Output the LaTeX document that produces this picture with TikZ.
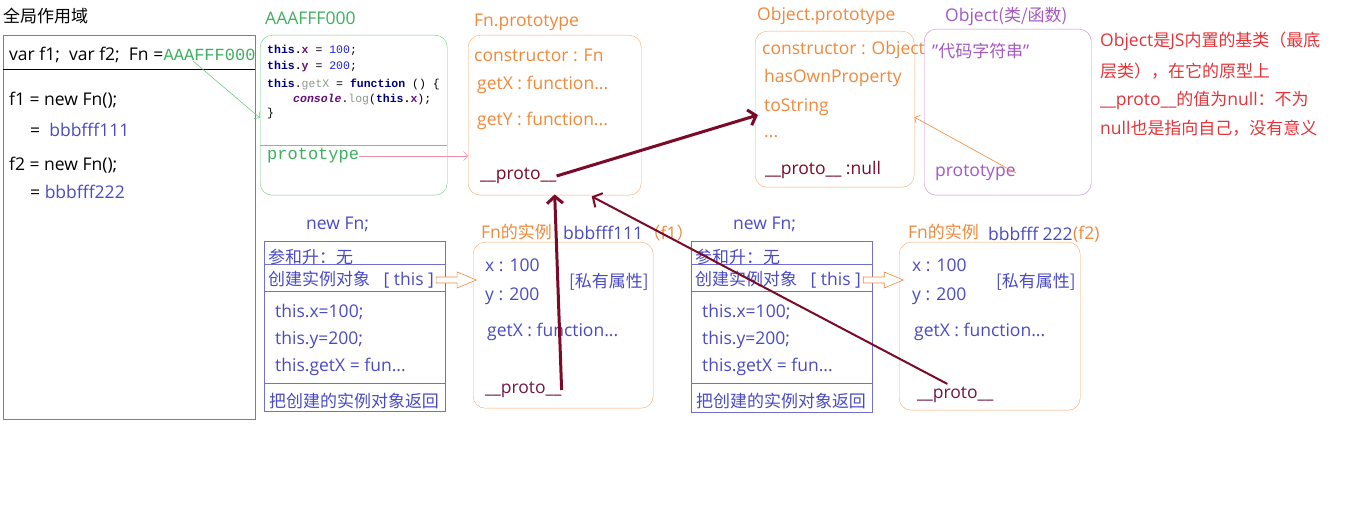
\documentclass[tikz,border=0pt]{standalone}
\usepackage{fontspec}
\setmainfont{Open Sans}
\newfontfamily\zhfont[Scale=0.97]{Noto Sans CJK SC}
\newfontfamily\codefont{Liberation Mono}
\newcommand{\zh}[1]{{\zhfont #1}}
\usetikzlibrary{arrows.meta, calc, positioning}

\definecolor{scopegray}{HTML}{7F7F7F}
\definecolor{heapgreen}{HTML}{6CCB86}
\definecolor{textgreen}{HTML}{3DB05E}
\definecolor{heaporange}{HTML}{F6A868}
\definecolor{textorange}{HTML}{F0883A}
\definecolor{textblue}{HTML}{4A4AC4}
\definecolor{lineblue}{HTML}{7070D4}
\definecolor{objpurple}{HTML}{A457C2}
\definecolor{protored}{HTML}{7A0A28}
\definecolor{notered}{HTML}{E53238}
\definecolor{linkpink}{HTML}{F28FA8}
\definecolor{codenavy}{HTML}{000080}
\definecolor{codepurple}{HTML}{660E7A}
\definecolor{codeblue}{HTML}{2020E0}
\definecolor{codegray}{HTML}{8A9A8A}

\begin{document}
\begin{tikzpicture}[x=1pt, y=-1pt,
    txt/.style={anchor=west, inner sep=0pt, font=\fontsize{17.5}{20}\selectfont},
    code/.style={anchor=west, inner sep=0pt, font=\codefont\fontsize{11.5}{13}\selectfont},
    box/.style={draw, anchor=north west, inner sep=0pt},
    rbox/.style={box, rounded corners=12pt},
    protoarrow/.style={protored, line width=3pt, -{Straight Barb[length=7pt, width=16pt]}},
    thinarrow/.style={line width=0.6pt, -{Straight Barb[length=4pt, width=9pt]}},
    blockarrow/.style={draw=textorange, fill=white, line width=0.6pt, line join=miter}]

    \useasboundingbox (0,0) rectangle (1347,510);

    % --- Global scope (stack) ---
    \node[txt] (gtitle) at (3,16) {\zh{全局作用域}};
    \node[box, draw=scopegray, minimum width=252pt, minimum height=384pt] (gscope) at (3,35) {};
    \draw (gscope.west |- 0,69) -- (gscope.east |- 0,69);
    \node[txt] (fnvar) at (9,55) {var f1;\ \ var f2;\ \ Fn =};
    \node[txt, right=0pt of fnvar, font=\codefont\fontsize{17}{19}\selectfont, textgreen] (fnval) {AAAFFF000};
    \node[txt] (f1new) at (9,100) {f1 = new Fn();};
    \node[txt] (f1val) at (30,130) {=\ \ \textcolor{textblue}{bbbfff111}};
    \node[txt] (f2new) at (9,165) {f2 = new Fn();};
    \node[txt] (f2val) at (30,192) {= \textcolor{textblue}{bbbfff222}};

    % --- Fn (function heap) ---
    \node[txt, textgreen] (fntitle) at (265,18) {AAAFFF000};
    \node[rbox, draw=heapgreen, minimum width=187pt, minimum height=160pt] (fnobj) at (260,35) {};
    \draw[heapgreen] (fnobj.west |- 0,145) -- (fnobj.east |- 0,145);
    \node[code] (c1) at (267,50) {\textbf{\textcolor{codenavy}{this}.\textcolor{codepurple}{x}} = \textcolor{codeblue}{100};};
    \node[code] (c2) at (267,67) {\textbf{\textcolor{codenavy}{this}.\textcolor{codepurple}{y}} = \textcolor{codeblue}{200};};
    \node[code] (c3) at (267,84) {\textbf{\textcolor{codenavy}{this}}.\textcolor{codegray}{getX} = \textbf{\textcolor{codenavy}{function}} () \{};
    \node[code] (c4) at (293,100) {\textbf{\textit{\textcolor{codepurple}{console}}}.\textcolor{codegray}{log}(\textbf{\textcolor{codenavy}{this}.\textcolor{codepurple}{x}});};
    \node[code] (c5) at (267,114) {\}};
    \node[code, font=\codefont\fontsize{17}{19}\selectfont, textgreen] (ptFn) at (267,156) {prototype};
    \coordinate (fnin) at (fnobj.west |- 0,118);
    \draw[thinarrow, heapgreen] ($(fnval.south west)!0.32!(fnval.south east)$) -- (fnin);

    % --- Fn.prototype ---
    \node[txt, textorange] (fnptitle) at (474,22) {Fn.prototype};
    \node[rbox, draw=heaporange, minimum width=173pt, minimum height=160pt] (fnproto) at (468,35) {};
    \node[txt, textorange] at (474,55) {constructor : Fn};
    \node[txt, textorange] at (477,85) {getX : function...};
    \node[txt, textorange] at (477,121) {getY : function...};
    \node[txt, protored] (pFnP) at (480,176) {\_\_proto\_\_};
    \draw[thinarrow, linkpink] (ptFn.east) -- (fnproto.west |- ptFn.east);

    % --- Object.prototype ---
    \node[txt, textorange] (optitle) at (757,16) {Object.prototype};
    \node[rbox, draw=heaporange, minimum width=159pt, minimum height=156pt] (objproto) at (755,31) {};
    \node[txt, textorange] at (762,50) {constructor : Object};
    \node[txt, textorange] at (764,78) {hasOwnProperty};
    \node[txt, textorange] (tstr) at (764,107) {toString};
    \node[txt, textorange] at (764,137) {...};
    \node[txt, protored] at (765,170) {\_\_proto\_\_ :null};

    % --- Object (class / function) ---
    \node[txt, objpurple] (ofntitle) at (945,16) {Object\zh{(类/函数)}};
    \node[rbox, draw=objpurple!70, minimum width=167pt, minimum height=166pt] (objfn) at (924,29) {};
    \node[txt, objpurple] at (932,51) {"\zh{代码字符串}"};
    \node[txt, objpurple] (ptObj) at (935,173) {prototype};
    \draw[thinarrow, textorange] (ptObj.east) -- ($(objproto.east)+(0,8)$);

    % --- Note ---
    \node[txt, notered] (note1) at (1100,41) {Object\zh{是}JS\zh{内置的基类（最底}};
    \node[txt, notered] (note2) at (1100,71) {\zh{层类），在它的原型上}};
    \node[txt, notered] (note3) at (1100,100) {\_\_proto\_\_\zh{的值为}null\zh{：不为}};
    \node[txt, notered] (note4) at (1100,128) {null\zh{也是指向自己，没有意义}};

    % --- new Fn (f1 / f2) ---
    \node[txt, textblue] (newAt) at (306,224) {new Fn;};
    \node[box, draw=lineblue, minimum width=181pt, minimum height=170pt] (newA) at (264,241) {};
    \node[txt, textblue] (newBt) at (733,224) {new Fn;};
    \node[box, draw=lineblue, minimum width=181pt, minimum height=171pt] (newB) at (691,241) {};
    \foreach \b in {newA, newB}
        \foreach \yy in {264, 291, 383}
            \draw[lineblue] (\b.west |- 0,\yy) -- (\b.east |- 0,\yy);
    \foreach \b/\xx in {A/268, B/695} {
        \node[txt, textblue] at (\xx,257) {\zh{参和升：无}};
        \node[txt, textblue] (this\b) at (\xx,280) {\zh{创建实例对象}\ \ \ [ this ]};
        \node[txt, textblue] at (\xx+7,312) {this.x=100;};
        \node[txt, textblue] at (\xx+7,340) {this.y=200;};
        \node[txt, textblue] at (\xx+7,367) {this.getX = fun...};
        \node[txt, textblue] at (\xx+1,401) {\zh{把创建的实例对象返回}};
    }

    % --- Instances ---
    \node[txt, textorange] (instAt) at (481,232) {Fn\zh{的实例}};
    \node[txt, textblue] (addrA) at (563,233) {bbbfff111};
    \node[txt, textorange, right=0pt of addrA] {\zh{（}f1\zh{）}};
    \node[rbox, draw=heaporange, minimum width=180pt, minimum height=166pt] (instA) at (473,242) {};
    \node[txt, textorange] (instBt) at (908,232) {Fn\zh{的实例}};
    \node[txt, textblue] (addrB) at (988,234) {bbbfff 222};
    \node[txt, textorange, right=0pt of addrB] {(f2)};
    \node[rbox, draw=heaporange, minimum width=181pt, minimum height=168pt] (instB) at (899,242) {};
    \foreach \b/\xx in {A/485, B/912} {
        \node[txt, textblue] at (\xx,265) {x : 100};
        \node[txt, textblue] at (\xx+84,282) {\zh{[私有属性]}};
        \node[txt, textblue] at (\xx,296) {y : 200};
        \node[txt, textblue] at (\xx+2,332) {getX : function...};
    }
    \node[txt, protored!80!textblue] (pA) at (485,390) {\_\_proto\_\_};
    \node[txt, protored!80!textblue] (pB) at (917,395) {\_\_proto\_\_};

    % --- Block arrows (this -> instance) ---
    \foreach \b in {A, B}
        \draw[blockarrow] ($(this\b.east)+(2,-3)$) -- ++(21,0) -- ++(0,-5) -- ++(19,8)
            -- ++(-19,8) -- ++(0,-5) -- ++(-21,0) -- cycle;

    % --- __proto__ chain ---
    \coordinate (fnpB) at ($(fnproto.south)+(37,1)$);
    \draw[protoarrow] (pFnP.east) -- ($(tstr.west)+(-6,8)$);
    \draw[protoarrow] (pA.east) -- ([yshift=1pt]fnproto.south);
    \draw[protoarrow, line width=2pt] ($(pB.north)+(-8,-3)$) -- (fnpB);
\end{tikzpicture}
\end{document}
